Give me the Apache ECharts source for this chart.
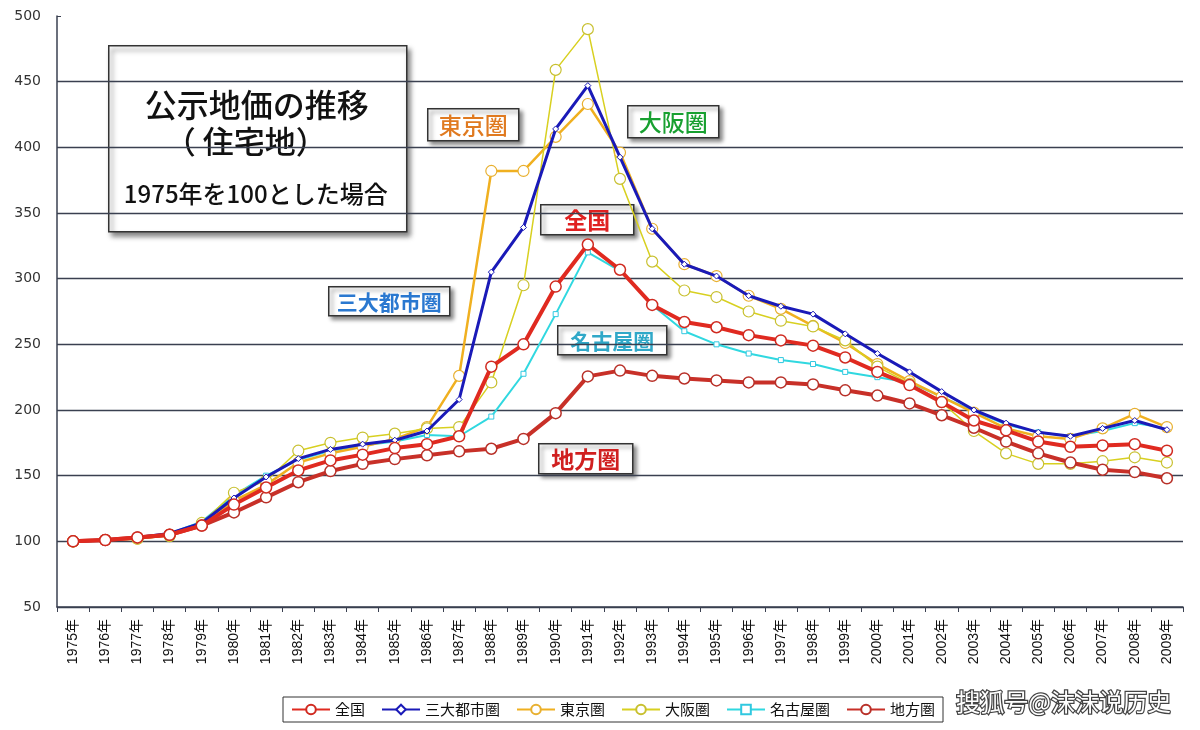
<!DOCTYPE html>
<html>
<head>
<meta charset="utf-8">
<script src="https://cdn.jsdelivr.net/npm/echarts@6/dist/echarts.min.js"></script>
<style>html,body{margin:0;padding:0;background:#fff;}#c{width:1200px;height:730px;}</style>
</head>
<body>
<div id="c"></div>
<script>
const years = ['1975','1976','1977','1978','1979','1980','1981','1982','1983','1984','1985','1986','1987','1988','1989','1990','1991','1992','1993','1994','1995','1996','1997','1998','1999','2000','2001','2002','2003','2004','2005','2006','2007','2008','2009'];
const zenkoku  = [100,101,103,105,112,128,141,154,161.6,166,171,174,180,233,250,294,326,306.8,280,267,263,257,253,249,240,229,219,206,192,184.5,176,172,173,174,169];
const sandai   = [100,101,103,106,114,133,149,163,170,174,177,184,208,305,339,414,447,392.5,338,311,302,287,279,273,258,243,229,214,200,190,183,180,186,192,185];
const tokyo    = [100,101,102,105,113,131,143,160,167,172,178,187,226,382,382,408,433,396,338,311,302,287,277,264,251,235,222,210,198,186,180,178,186,197,187];
const osaka    = [100,101,102,104,114,137,146,169,175,179,182,186,187,221,295,459,490,376,313,291,286,275,268,263.6,253,233,220,206,184,167,159,159,161,164,160];
const nagoya   = [100,101,103,106,115,135,150,162,169,173,176,181,180,195,227.6,273,320,306,280,260,250,243,238,235,229,225,221,210,199,189,183,180,184,190,186];
const chiho    = [100,101,103,105,112,122,133.5,145,153.5,159,162.6,165.5,168.5,170.5,178,197.6,225.6,230,226,224,222.5,221,221,219.5,215,211,205,196,186.5,176,167,160,154.5,152.7,148];
const seriesNames = ['全国','三大都市圏','東京圏','大阪圏','名古屋圏','地方圏'];
const yTicks = [50,100,150,200,250,300,350,400,450,500];

const FONT = '"Noto Sans CJK JP","Noto Sans",sans-serif';
const GRID = '#3a4050';
const chart = echarts.init(document.getElementById('c'));

function labelBox(x, y, w, h, text, color, fs, weight) {
  return {
    type: 'group', left: x, top: y, z: 100,
    children: [
      {type: 'rect', shape: {x: 0, y: 0, width: w, height: h},
       style: {fill: '#fff', stroke: '#333', lineWidth: 1.5, shadowBlur: 4, shadowOffsetX: 3, shadowOffsetY: 3, shadowColor: 'rgba(0,0,0,0.45)'}},
      {type: 'text', x: w / 2, y: h / 2 + 1,
       style: {text: text, fill: color, font: (weight || 'bold') + ' ' + fs + 'px ' + FONT, align: 'center', verticalAlign: 'middle'}}
    ]
  };
}

// split line colours: hide the line at the maximum tick
const splitColors = yTicks.map((t, i) => i === yTicks.length - 1 ? 'rgba(0,0,0,0)' : GRID);

const option = {
  backgroundColor: '#fff',
  animation: false,
  grid: {left: 57, right: 17, top: 16, bottom: 123},
  legend: {
    left: 283, top: 697,
    data: seriesNames,
    borderColor: '#333', borderWidth: 1, borderRadius: 0,
    padding: [5, 8, 5, 8],
    itemGap: 16, itemWidth: 38, itemHeight: 12,
    textStyle: {fontFamily: FONT, fontSize: 15, color: '#111'}
  },
  xAxis: {
    type: 'category', data: years, boundaryGap: true,
    axisLine: {lineStyle: {color: GRID, width: 1.5}},
    axisTick: {show: true, length: 5, lineStyle: {color: GRID}},
    axisLabel: {rotate: 90, interval: 0, fontFamily: '"Liberation Sans","Noto Sans CJK JP",sans-serif', fontSize: 14, color: '#111', margin: 12,
      formatter: v => v + '年'}
  },
  yAxis: {
    type: 'value', min: 50, max: 500, interval: 50,
    axisLine: {show: true, lineStyle: {color: GRID, width: 1.5}},
    axisTick: {show: true, inside: true, length: 4, lineStyle: {color: GRID}},
    axisLabel: {fontFamily: '"DejaVu Sans",sans-serif', fontSize: 14, color: '#333', margin: 16},
    splitLine: {lineStyle: {color: splitColors, width: 1.3}}
  },
  series: [
    {name: seriesNames[0], type: 'line', data: zenkoku, z: 6, symbol: 'circle', symbolSize: 11,
     lineStyle: {color: '#e02a20', width: 4}, itemStyle: {color: '#fff', borderColor: '#d02a20', borderWidth: 1.5}, color: '#e02a20'},
    {name: seriesNames[1], type: 'line', data: sandai, z: 4, symbol: 'diamond', symbolSize: 6,
     lineStyle: {color: '#1a1ab8', width: 3}, itemStyle: {color: '#fff', borderColor: '#1a1ab8', borderWidth: 1}, color: '#1a1ab8'},
    {name: seriesNames[2], type: 'line', data: tokyo, z: 3, symbol: 'circle', symbolSize: 11,
     lineStyle: {color: '#f0b020', width: 2.5}, itemStyle: {color: '#fff', borderColor: '#e8b030', borderWidth: 1.2}, color: '#f0b020'},
    {name: seriesNames[3], type: 'line', data: osaka, z: 3, symbol: 'circle', symbolSize: 11,
     lineStyle: {color: '#d8d020', width: 1.5}, itemStyle: {color: '#fff', borderColor: '#c8c030', borderWidth: 1.2}, color: '#d8d020'},
    {name: seriesNames[4], type: 'line', data: nagoya, z: 2, symbol: 'rect', symbolSize: 5,
     lineStyle: {color: '#30d8e0', width: 2}, itemStyle: {color: '#fff', borderColor: '#30c8e0', borderWidth: 1}, color: '#30d8e0'},
    {name: seriesNames[5], type: 'line', data: chiho, z: 5, symbol: 'circle', symbolSize: 11,
     lineStyle: {color: '#c83028', width: 4}, itemStyle: {color: '#fff', borderColor: '#b83028', borderWidth: 1.5}, color: '#c83028'}
  ],
  graphic: [
    {type: 'group', left: 108, top: 45, z: 100, children: [
      {type: 'rect', shape: {x: 0, y: 0, width: 298, height: 186},
       style: {fill: '#fff', stroke: '#333', lineWidth: 1.5, shadowBlur: 5, shadowOffsetX: 3, shadowOffsetY: 4, shadowColor: 'rgba(0,0,0,0.5)'}},
      {type: 'text', x: 148, y: 59, style: {text: '公示地価の推移', fill: '#111', font: '500 32px ' + FONT, align: 'center', verticalAlign: 'middle'}},
      {type: 'text', x: 137, y: 95, style: {text: '（ 住宅地）', fill: '#111', font: '500 31px ' + FONT, align: 'center', verticalAlign: 'middle'}},
      {type: 'text', x: 147, y: 148, style: {text: '1975年を100とした場合', fill: '#111', font: '500 24px ' + FONT, align: 'center', verticalAlign: 'middle'}}
    ]},
    labelBox(427, 108, 91, 32, '東京圏', '#e07a20', 23, '500'),
    labelBox(627, 105, 91, 32, '大阪圏', '#18a030', 23, '500'),
    labelBox(540, 204, 93, 30, '全国', '#e02020', 23, 'bold'),
    labelBox(328, 286, 121, 29, '三大都市圏', '#2a78d0', 21, 'bold'),
    labelBox(557, 325, 109, 29, '名古屋圏', '#30a8c8', 21, 'bold'),
    labelBox(538, 443, 94, 30, '地方圏', '#d02020', 23, 'bold'),
    {type: 'text', left: 955, top: 689, z: 120,
     style: {text: '搜狐号@沫沫说历史', fill: '#fff', stroke: '#444', lineWidth: 2.5, font: '24px ' + FONT}}
  ]
};
chart.setOption(option);
</script>
</body>
</html>
